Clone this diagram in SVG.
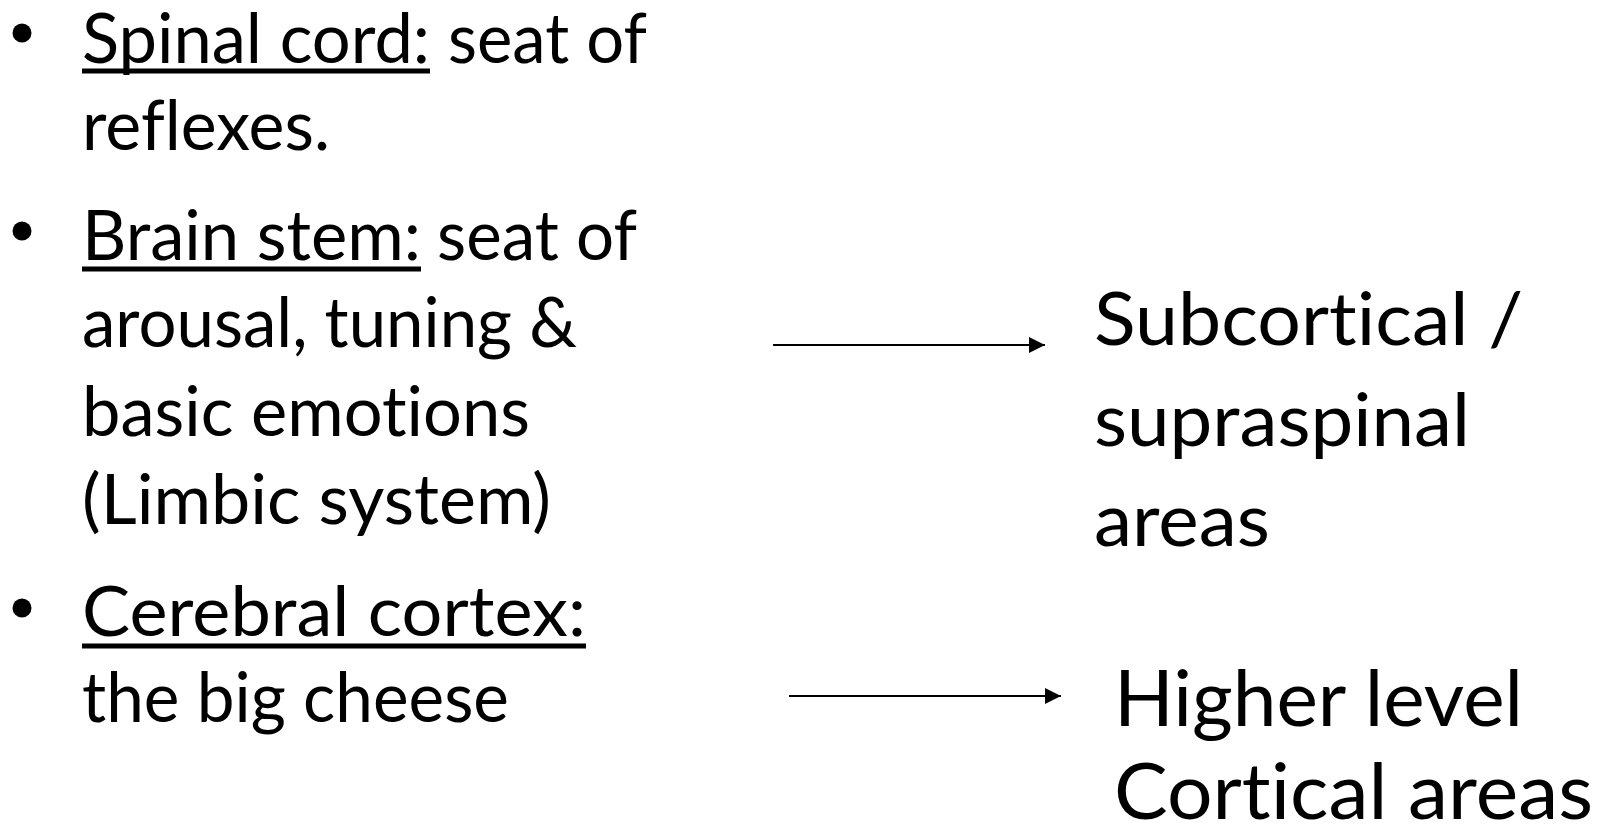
<svg xmlns="http://www.w3.org/2000/svg" width="1606" height="832" viewBox="0 0 1606 832">
  <style>
    .t { font-family: "Lato", "Open Sans", sans-serif; fill: #000; font-variant-ligatures: none; font-feature-settings: "liga" 0, "clig" 0; }
    .l { font-size: 69px; }
    .r1 { font-size: 74px; }
    .r2 { font-size: 78px; }
    .ul { stroke: #000; stroke-width: 5; }
    .bul { fill: #000; }
    .conn { stroke: #000; stroke-width: 2; fill: none; }
  </style>
  <defs>
    <marker id="arr" markerUnits="userSpaceOnUse" markerWidth="17" markerHeight="16" refX="16" refY="8" orient="auto">
      <path d="M0,0 L16,8 L0,16 Z" fill="#000"/>
    </marker>
  </defs>
  <rect width="1606" height="832" fill="#fff"/>

  <g id="item-spinal">
    <circle class="bul" cx="22" cy="33" r="9.5"/>
    <text class="t l" x="82" y="63" textLength="348" lengthAdjust="spacingAndGlyphs">Spinal cord:</text>
    <line class="ul" x1="82" y1="71" x2="430" y2="71"/>
    <text class="t l" x="448" y="63" textLength="199" lengthAdjust="spacingAndGlyphs">seat of</text>
    <text class="t l" x="82" y="150" textLength="248" lengthAdjust="spacingAndGlyphs">reflexes.</text>
  </g>

  <g id="item-brainstem">
    <circle class="bul" cx="22" cy="231" r="9.5"/>
    <text class="t l" x="82" y="260" textLength="339" lengthAdjust="spacingAndGlyphs">Brain stem:</text>
    <line class="ul" x1="82" y1="269" x2="421" y2="269"/>
    <text class="t l" x="437" y="260" textLength="200" lengthAdjust="spacingAndGlyphs">seat of</text>
    <text class="t l" x="82" y="347" textLength="495" lengthAdjust="spacingAndGlyphs">arousal, tuning &amp;</text>
    <text class="t l" x="82" y="436" textLength="448" lengthAdjust="spacingAndGlyphs">basic emotions</text>
    <text class="t l" x="82" y="524" textLength="469" lengthAdjust="spacingAndGlyphs">(Limbic system)</text>
  </g>

  <g id="item-cortex">
    <circle class="bul" cx="22" cy="608" r="9.5"/>
    <text class="t l" x="82" y="636" textLength="504" lengthAdjust="spacingAndGlyphs">Cerebral cortex:</text>
    <line class="ul" x1="82" y1="646" x2="586" y2="646"/>
    <text class="t l" x="82" y="722" textLength="427" lengthAdjust="spacingAndGlyphs">the big cheese</text>
  </g>

  <g id="node-subcortical">
    <text class="t r1" x="1094" y="345" textLength="429" lengthAdjust="spacingAndGlyphs">Subcortical /</text>
    <text class="t r1" x="1094" y="446" textLength="376" lengthAdjust="spacingAndGlyphs">supraspinal</text>
    <text class="t r1" x="1094" y="546" textLength="176" lengthAdjust="spacingAndGlyphs">areas</text>
  </g>

  <g id="node-higher">
    <text class="t r2" x="1114" y="726" textLength="409" lengthAdjust="spacingAndGlyphs">Higher level</text>
    <text class="t r2" x="1114" y="819" textLength="479" lengthAdjust="spacingAndGlyphs">Cortical areas</text>
  </g>

  <g id="connectors">
    <line class="conn" x1="773" y1="345" x2="1045" y2="345" marker-end="url(#arr)"/>
    <line class="conn" x1="789" y1="696" x2="1061" y2="696" marker-end="url(#arr)"/>
  </g>
</svg>
